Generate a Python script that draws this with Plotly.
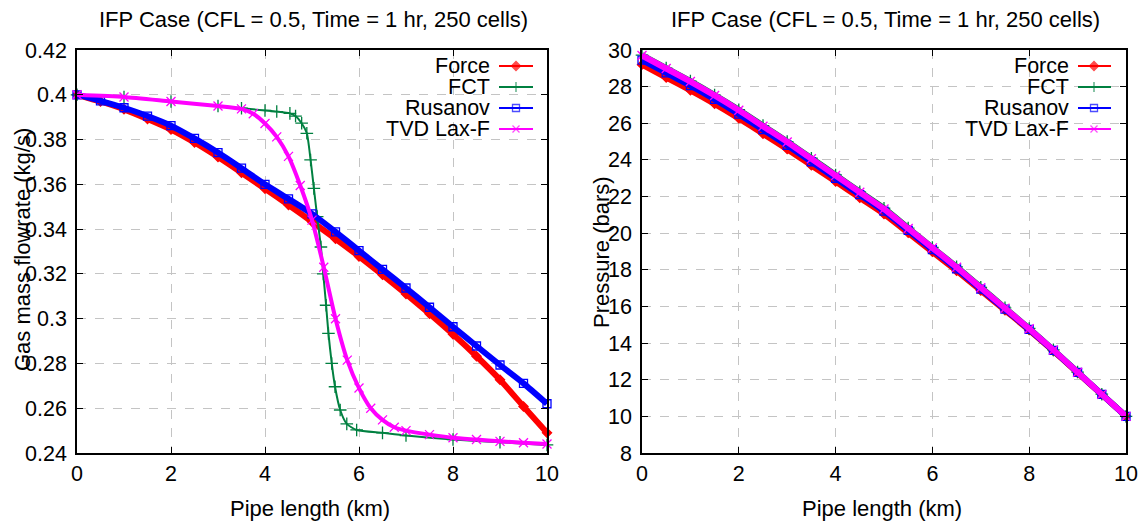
import plotly.graph_objects as go

# ---------------- data ----------------
series_names = ["Force", "FCT", "Rusanov", "TVD Lax-F"]
series_colors = ["#ff0000", "#008040", "#0000ff", "#ff00ff"]
series_symbols = ["diamond", "cross-thin", "square-open", "x-thin"]

# Left panel: gas mass flowrate (kg/s) vs pipe length (km)
x_smooth = [0, 0.5, 1, 1.5, 2, 2.5, 3, 3.5, 4, 4.5, 5, 5.5, 6, 6.5, 7, 7.5, 8, 8.5, 9, 9.5, 10]
force_q = [0.4000, 0.3970, 0.3935, 0.3892, 0.3845, 0.3787, 0.3722, 0.3652, 0.3580, 0.3508, 0.3433,
           0.3357, 0.3278, 0.3196, 0.3110, 0.3022, 0.2930, 0.2832, 0.2727, 0.2608, 0.2490]
rusanov_q = [0.4000, 0.3973, 0.3942, 0.3905, 0.3862, 0.3805, 0.3742, 0.3672, 0.3600, 0.3535, 0.3468,
             0.3388, 0.3304, 0.3220, 0.3137, 0.3051, 0.2964, 0.2878, 0.2793, 0.2711, 0.2620]

fct_x = [0, 1, 2, 3, 3.5, 4, 4.25, 4.53, 4.65, 4.78, 4.89, 4.97, 5.04, 5.11, 5.19, 5.24, 5.30, 5.35,
         5.42, 5.49, 5.60, 5.74, 5.95, 6.5, 7, 8, 9, 10]
fct_q = [0.4000, 0.3990, 0.3970, 0.3950, 0.3940, 0.3930, 0.3925, 0.3917, 0.3905, 0.3873, 0.3828, 0.3709,
         0.3582, 0.3456, 0.3320, 0.3200, 0.3060, 0.2934, 0.2800, 0.2696, 0.2592, 0.2530, 0.2503, 0.2490,
         0.2478, 0.2460, 0.2448, 0.2436]

tvd_x = [0, 1, 2, 3, 3.5, 3.75, 4, 4.25, 4.5, 4.75, 5, 5.25, 5.5, 5.75, 6, 6.25, 6.5, 6.75, 7, 7.5,
         8, 8.5, 9, 9.5, 10]
tvd_q = [0.4000, 0.3990, 0.3970, 0.3950, 0.3937, 0.3915, 0.3872, 0.3812, 0.3725, 0.3595, 0.3440, 0.3230,
         0.3000, 0.2815, 0.2690, 0.2600, 0.2548, 0.2515, 0.2500, 0.2482, 0.2468, 0.2460, 0.2452, 0.2446,
         0.2440]

# Right panel: pressure (bars) vs pipe length (km)
x_p = [0, 0.5, 1, 1.5, 2, 2.5, 3, 3.5, 4, 4.5, 5, 5.5, 6, 6.5, 7, 7.5, 8, 8.5, 9, 9.5, 10]
force_p = [29.20, 28.50, 27.80, 27.06, 26.27, 25.43, 24.59, 23.70, 22.82, 21.93, 21.05,
           20.02, 18.98, 17.95, 16.87, 15.79, 14.71, 13.57, 12.38, 11.19, 10.00]
fct_p = [29.72, 29.01, 28.30, 27.54, 26.74, 25.87, 25.00, 24.09, 23.18, 22.26, 21.36,
         20.28, 19.22, 18.16, 17.04, 15.92, 14.80, 13.63, 12.42, 11.21, 10.00]
rusanov_p = [29.45, 28.75, 28.05, 27.30, 26.50, 25.65, 24.80, 23.90, 23.00, 22.10, 21.20,
             20.15, 19.10, 18.05, 16.95, 15.85, 14.75, 13.60, 12.40, 11.20, 10.00]
tvd_p = [29.70, 28.99, 28.28, 27.52, 26.71, 25.84, 24.98, 24.06, 23.15, 22.23, 21.32,
         20.26, 19.20, 18.14, 17.02, 15.90, 14.78, 13.62, 12.41, 11.20, 10.00]

title_text = "IFP Case (CFL = 0.5, Time = 1 hr, 250 cells)"
xlabel = "Pipe length (km)"
ylabel_left = "Gas mass flowrate (kg/s)"
ylabel_right = "Pressure (bars)"

# ---------------- layout geometry (pixels) ----------------
W, H = 1143, 523
L, R, T, B = 77, 17, 50, 70
PW, PH = W - L - R, H - T - B
LEFT_X0, LEFT_X1 = 77, 547
RIGHT_X0, RIGHT_X1 = 642, 1126
FONT = "Liberation Sans, Arial, Helvetica, sans-serif"


def paper_x(px):
    return (px - L) / PW


def paper_y(py):
    return (H - B - py) / PH


fig = go.Figure()

left_sets = [(x_smooth, force_q), (fct_x, fct_q), (x_smooth, rusanov_q), (tvd_x, tvd_q)]
left_widths = [6, 2, 6, 4]
left_msize = [7, 9, 8, 9]
for i, (xs, ys) in enumerate(left_sets):
    fig.add_trace(go.Scatter(
        x=xs, y=ys, mode="lines+markers", name=series_names[i],
        line=dict(color=series_colors[i], width=left_widths[i], shape="spline", smoothing=0.6),
        marker=dict(symbol=series_symbols[i], size=left_msize[i], color=series_colors[i],
                    line=dict(color=series_colors[i], width=1.3)),
        xaxis="x", yaxis="y", showlegend=False, cliponaxis=False))

right_sets = [force_p, fct_p, rusanov_p, tvd_p]
for i, ys in enumerate(right_sets):
    fig.add_trace(go.Scatter(
        x=x_p, y=ys, mode="lines+markers", name=series_names[i],
        line=dict(color=series_colors[i], width=6, shape="spline", smoothing=0.6),
        marker=dict(symbol=series_symbols[i], size=left_msize[i], color=series_colors[i],
                    line=dict(color=series_colors[i], width=1.3)),
        xaxis="x2", yaxis="y2", showlegend=False, cliponaxis=False))

# ---------------- gnuplot-style keys (pixel overlay axis) ----------------
key_rows = [66, 87, 108, 129]
keys = [(492, 499, 516, 533), (1071, 1078, 1094, 1111)]
annotations = []
for (tx, lx0, lm, lx1) in keys:
    for i, ry in enumerate(key_rows):
        fig.add_trace(go.Scatter(
            x=[lx0, lm, lx1], y=[ry, ry, ry], mode="lines+markers",
            line=dict(color=series_colors[i], width=2),
            marker=dict(symbol=series_symbols[i], size=[0, 7, 0], color=series_colors[i],
                        line=dict(color=series_colors[i], width=1.3)),
            xaxis="x3", yaxis="y3", showlegend=False, hoverinfo="skip"))
        annotations.append(dict(x=paper_x(tx), y=paper_y(ry), xref="paper", yref="paper",
                                text=series_names[i], showarrow=False, xanchor="right",
                                yanchor="middle", font=dict(size=21.5, color="black", family=FONT)))

# titles and axis labels
for cx in [(LEFT_X0 + LEFT_X1) / 2, (RIGHT_X0 + RIGHT_X1) / 2]:
    annotations.append(dict(x=paper_x(cx + 1), y=paper_y(19), xref="paper", yref="paper", text=title_text,
                            showarrow=False, xanchor="center", yanchor="middle",
                            font=dict(size=22, color="black", family=FONT)))
    annotations.append(dict(x=paper_x(cx - 2), y=paper_y(508), xref="paper", yref="paper", text=xlabel,
                            showarrow=False, xanchor="center", yanchor="middle",
                            font=dict(size=22, color="black", family=FONT)))
annotations.append(dict(x=paper_x(22), y=paper_y(250), xref="paper", yref="paper", text=ylabel_left,
                        showarrow=False, textangle=-90, xanchor="center", yanchor="middle",
                        font=dict(size=22, color="black", family=FONT)))
annotations.append(dict(x=paper_x(601), y=paper_y(252), xref="paper", yref="paper", text=ylabel_right,
                        showarrow=False, textangle=-90, xanchor="center", yanchor="middle",
                        font=dict(size=22, color="black", family=FONT)))

axis_common = dict(showline=True, linecolor="black", linewidth=1.5, mirror="allticks",
                   ticks="inside", ticklen=6, tickwidth=1.2, tickcolor="black",
                   showgrid=True, gridcolor="#c4c4c4", gridwidth=1.3, griddash="dash",
                   zeroline=False, automargin=False,
                   tickfont=dict(size=21.5, color="black", family=FONT))

fig.update_layout(
    width=W, height=H,
    margin=dict(l=L, r=R, t=T, b=B, autoexpand=False),
    paper_bgcolor="white", plot_bgcolor="rgba(0,0,0,0)",
    showlegend=False,
    xaxis=dict(domain=[paper_x(LEFT_X0), paper_x(LEFT_X1)], range=[0, 10], dtick=2, tick0=0,
               anchor="y", ticklabelstandoff=0, **axis_common),
    yaxis=dict(domain=[0, 1], range=[0.24, 0.42], dtick=0.02, tick0=0.24, anchor="x",
               ticklabelstandoff=4, **axis_common),
    xaxis2=dict(domain=[paper_x(RIGHT_X0), paper_x(RIGHT_X1)], range=[0, 10], dtick=2, tick0=0,
                anchor="y2", ticklabelstandoff=0, **axis_common),
    yaxis2=dict(domain=[0, 1], range=[8, 30], dtick=2, tick0=8, anchor="x2",
                ticklabelstandoff=4, **axis_common),
    xaxis3=dict(domain=[0, 1], range=[L, W - R], visible=False, anchor="y3", fixedrange=True),
    yaxis3=dict(domain=[0, 1], range=[H - B, T], visible=False, anchor="x3", fixedrange=True),
    annotations=annotations,
)

fig.write_html("out.html", config={"displayModeBar": False},
               post_script="document.body.style.margin='0';document.body.style.padding='0';")
